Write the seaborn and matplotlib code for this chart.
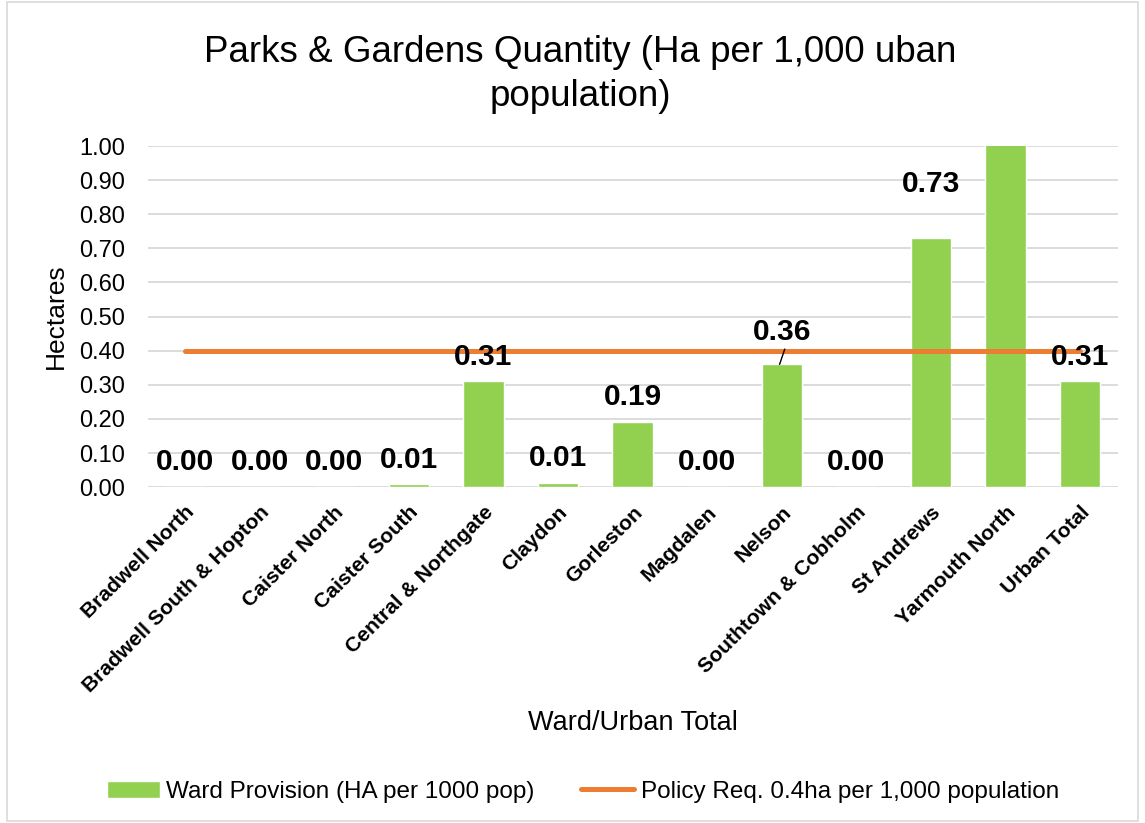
import matplotlib.pyplot as plt
import seaborn as sns
import pandas as pd
from matplotlib.patches import Rectangle

wards = ['Bradwell North', 'Bradwell South & Hopton', 'Caister North',
         'Caister South', 'Central & Northgate', 'Claydon', 'Gorleston',
         'Magdalen', 'Nelson', 'Southtown & Cobholm', 'St Andrews',
         'Yarmouth North', 'Urban Total']
provision = [0.00, 0.00, 0.00, 0.008, 0.31, 0.012, 0.19, 0.00, 0.36, 0.00,
             0.73, 1.25, 0.31]
policy = [0.40, 0.40, 0.40, 0.40, 0.40, 0.40, 0.40, 0.40, 0.40, 0.40,
          0.40, 0.40, 0.40]

df = pd.DataFrame({'ward': wards, 'provision': provision, 'policy': policy})

sns.set_style('white')
plt.rcParams['font.family'] = ['Liberation Sans', 'DejaVu Sans']
plt.rcParams['text.color'] = 'black'
plt.rcParams['axes.labelcolor'] = 'black'
plt.rcParams['xtick.color'] = 'black'
plt.rcParams['ytick.color'] = 'black'

fig = plt.figure(figsize=(11.45, 8.23), dpi=100)
ax = fig.add_axes([0.129, 0.408, 0.847, 0.4146])

# Grafico de barras
sns.barplot(
    x='ward',
    y='provision',
    data=df,
    color='#92D050',
    saturation=1,
    width=0.54,
    ax=ax
)

# Linha da politica
line, = ax.plot(range(len(wards)), df['policy'], color='#ED7D31', lw=3.6,
                solid_capstyle='round', zorder=3)

ax.set_ylim(0, 1.0)
ax.set_xlim(-0.5, len(wards) - 0.5)
ax.set_yticks([i / 10 for i in range(11)])
ax.set_yticklabels([f'{i / 10:.2f}' for i in range(11)], fontsize=17)
ax.yaxis.grid(True, color='#D9D9D9', lw=1.3)
ax.set_axisbelow(True)
for s in ax.spines.values():
    s.set_visible(False)
ax.tick_params(axis='both', length=0)
ax.tick_params(axis='y', pad=16)

ax.set_xticks(range(len(wards)))
ax.set_xticklabels(wards, rotation=45, ha='right', rotation_mode='anchor',
                   fontsize=15.2, fontweight='bold')
ax.tick_params(axis='x', pad=11)
ax.set_xlabel('Ward/Urban Total', fontsize=19.5, labelpad=10)
ax.set_ylabel('Hectares', fontsize=19, labelpad=8)

# rotulos de dados
for i, v in enumerate(provision):
    if v > 1.0:
        continue
    off = 0.073
    if wards[i] == 'St Andrews':
        off = 0.16
    if wards[i] == 'Nelson':
        off = 0.094
        ax.plot([i - 0.03, i + 0.04], [v, v + 0.045], color='black', lw=1, zorder=4)
    ax.text(i, v + off, f'{v:.2f}', ha='center', va='center', fontsize=21.5,
            fontweight='bold', zorder=5)

fig.suptitle('Parks & Gardens Quantity (Ha per 1,000 uban\npopulation)',
             x=0.507, y=0.958, fontsize=26.5, linespacing=1.36)

bars = Rectangle((0, 0), 1, 1, facecolor='#92D050')
fig.legend([bars, line],
           ['Ward Provision (HA per 1000 pop)', 'Policy Req. 0.4ha per 1,000 population'],
           loc='center', bbox_to_anchor=(0.509, 0.038), ncol=2,
           frameon=False, fontsize=17.5, handlelength=2.2, columnspacing=1.9,
           handletextpad=0.25)

fig.patches.append(Rectangle((0.006, 0.003), 0.988, 0.994, transform=fig.transFigure,
                             fill=False, edgecolor='#D9D9D9', lw=1.2))

fig.savefig('out.png', dpi=100)
